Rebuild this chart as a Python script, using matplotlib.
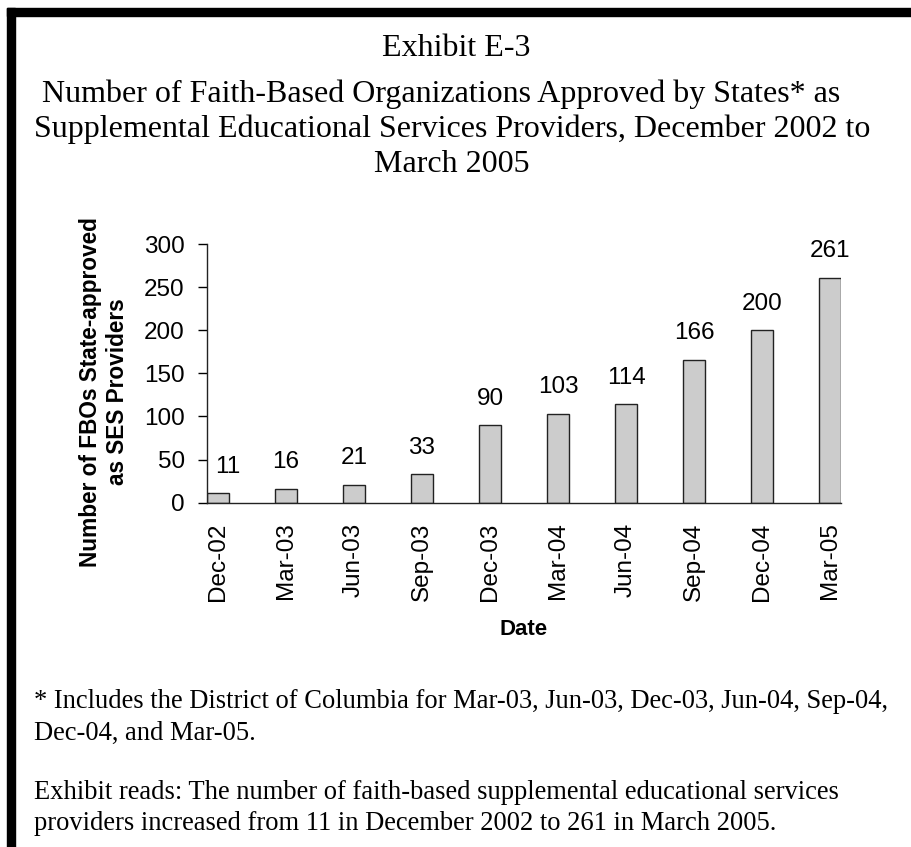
import matplotlib
matplotlib.use("Agg")
import matplotlib.pyplot as plt
from matplotlib.patches import Rectangle

# Chart data
dates = ["Dec-02", "Mar-03", "Jun-03", "Sep-03", "Dec-03",
         "Mar-04", "Jun-04", "Sep-04", "Dec-04", "Mar-05"]
providers = [11, 16, 21, 33, 90, 103, 114, 166, 200, 261]
y_ticks = [0, 50, 100, 150, 200, 250, 300]

title_lines = [
    "Exhibit E-3",
    "Number of Faith-Based Organizations Approved by States* as",
    "Supplemental Educational Services Providers, December 2002 to",
    "March 2005",
]
note_lines = [
    "* Includes the District of Columbia for Mar-03, Jun-03, Dec-03, Jun-04, Sep-04,",
    "Dec-04, and Mar-05.",
    "Exhibit reads: The number of faith-based supplemental educational services",
    "providers increased from 11 in December 2002 to 261 in March 2005.",
]

W, H = 912, 847
SANS = "Liberation Sans"
SERIF = "Liberation Serif"


def fx(px):
    return px / W


def fy(py):
    return 1 - py / H


fig = plt.figure(figsize=(W / 100, H / 100), dpi=100)
fig.patch.set_facecolor("white")

# thick frame along the top and left edges
fig.patches.append(Rectangle((fx(7), fy(16)), 1, fy(8) - fy(16),
                             transform=fig.transFigure, color="black", zorder=5))
fig.patches.append(Rectangle((fx(7), 0), fx(15) - fx(7), fy(8),
                             transform=fig.transFigure, color="black", zorder=5))

# titles
title_pos = [(456, 56), (441, 102), (452, 137), (452, 172)]
for line, (x, y) in zip(title_lines, title_pos):
    fig.text(fx(x), fy(y), line, ha="center", va="baseline",
             fontsize=23, family=SERIF)

# bar chart
ax = fig.add_axes([fx(206.7), fy(502.7), fx(841.3) - fx(206.7), fy(244) - fy(502.7)])
pos = list(range(len(dates)))
bw = 0.325
bars = ax.bar(pos, providers, width=bw, color="#cccccc",
              edgecolor="#222222", linewidth=1.0)
for x, v in zip(pos, providers):
    # first label sits a little right so it clears the axis line
    dx = 7 if x == 0 else 0
    ax.annotate(str(v), (x, v), xytext=(dx, 14.8), textcoords="offset points",
                ha="center", va="baseline", fontsize=17.5, family=SANS)

ax.set_xlim(-bw / 2, len(dates) - 1 + bw / 2)
ax.set_ylim(0, 300)
ax.set_yticks(y_ticks)
ax.set_yticklabels([str(t) for t in y_ticks], fontsize=17.5, family=SANS)
ax.set_xticks(pos)
ax.set_xticklabels(dates, rotation=90, fontsize=17.5, family=SANS)
ax.tick_params(axis="y", direction="out", length=6.8, width=1, pad=9.0)
ax.tick_params(axis="x", length=0, pad=14.3)
for side in ("top", "right"):
    ax.spines[side].set_visible(False)
for side in ("left", "bottom"):
    ax.spines[side].set_color("#222222")
    ax.spines[side].set_linewidth(1)

ax.set_xlabel("Date", fontsize=16, fontweight="bold", family=SANS, labelpad=13)
fig.text(fx(104), fy(392), "Number of FBOs State-approved\nas SES Providers",
         rotation=90, ha="center", va="center", fontsize=16.3,
         fontweight="bold", family=SANS, linespacing=1.25)

# footnotes
note_y = [708, 740, 799, 830]
for line, y in zip(note_lines, note_y):
    fig.text(fx(34.5), fy(y), line, ha="left", va="baseline",
             fontsize=19.1, family=SERIF)

fig.savefig("out.png", dpi=100)
